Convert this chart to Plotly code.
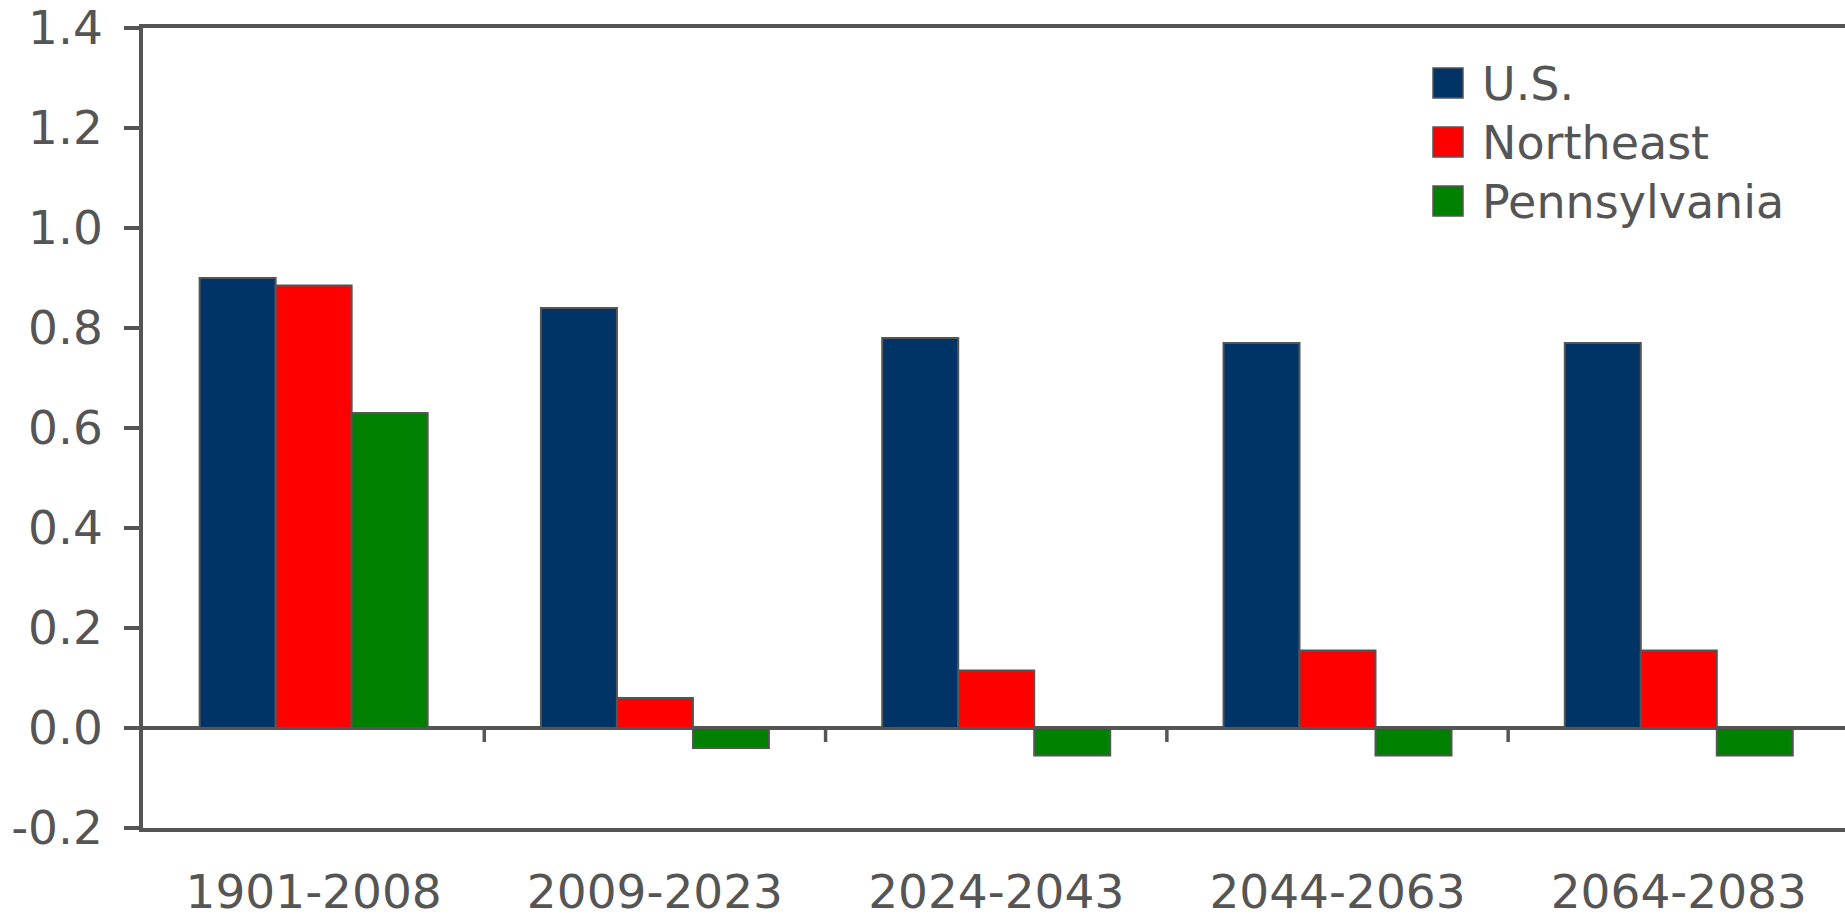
import plotly.graph_objects as go

# Periods and growth values per region
periods = ["1901-2008", "2009-2023", "2024-2043", "2044-2063", "2064-2083"]
us = [0.90, 0.84, 0.78, 0.77, 0.77]
northeast = [0.885, 0.06, 0.115, 0.155, 0.155]
pennsylvania = [0.63, -0.04, -0.055, -0.055, -0.055]

series_names = ["U.S.", "Northeast", "Pennsylvania"]
series_colors = ["#003366", "#FF0000", "#008000"]

y_tickvals = [-0.2, 0.0, 0.2, 0.4, 0.6, 0.8, 1.0, 1.2, 1.4]
y_ticktext = ["-0.2", "0.0", "0.2", "0.4", "0.6", "0.8", "1.0", "1.2", "1.4"]

# Page geometry (pixels)
W, H = 1845, 919
PLOT_L, PLOT_T, PLOT_B = 143, 28, 828
INK = "#555555"
FONT = "DejaVu Sans"

fig = go.Figure()
for name, vals, col in zip(series_names, [us, northeast, pennsylvania], series_colors):
    fig.add_trace(go.Bar(
        x=periods, y=vals, name=name,
        marker=dict(color=col, line=dict(color=INK, width=2)),
        showlegend=False,
    ))

def px_x(p):
    return (p - PLOT_L) / (W - PLOT_L)

def px_y(p):
    return (PLOT_B - p) / (PLOT_B - PLOT_T)

shapes = []
# small separators hanging below the zero line between periods
for i in range(len(periods) - 1):
    shapes.append(dict(type="line", xref="x", yref="y",
                       x0=i + 0.5, x1=i + 0.5, y0=0, y1=-0.028,
                       line=dict(color=INK, width=3.5)))

# legend drawn as swatches plus labels
annotations = []
sw_left, sw_size, txt_left = 1433, 30, 1480
row_centers = [83, 142, 201]
for name, col, cy in zip(series_names, series_colors, row_centers):
    shapes.append(dict(type="rect", xref="paper", yref="paper",
                       x0=px_x(sw_left), x1=px_x(sw_left + sw_size),
                       y0=px_y(cy + sw_size / 2), y1=px_y(cy - sw_size / 2),
                       fillcolor=col, line=dict(color=INK, width=1.5)))
    annotations.append(dict(xref="paper", yref="paper",
                            x=px_x(txt_left), y=px_y(cy + 1),
                            xanchor="left", yanchor="middle", showarrow=False,
                            text=name, font=dict(family=FONT, size=46, color=INK)))

fig.update_layout(
    width=W, height=H,
    margin=dict(l=PLOT_L, r=0, t=PLOT_T, b=H - PLOT_B, pad=0, autoexpand=False),
    plot_bgcolor="white", paper_bgcolor="white",
    barmode="group", bargap=0.332, bargroupgap=0,
    font=dict(family=FONT, color=INK, size=47),
    showlegend=False,
    shapes=shapes,
    annotations=annotations,
    xaxis=dict(
        type="category", range=[-0.5, 4.487], automargin=False,
        showline=True, linecolor=INK, linewidth=3.5, mirror=True,
        ticks="", showgrid=False,
        tickfont=dict(family=FONT, size=47, color=INK),
        ticklabelstandoff=20,
    ),
    yaxis=dict(
        range=[-0.2, 1.4], automargin=False,
        tickvals=y_tickvals, ticktext=y_ticktext,
        ticklabeloverflow="allow",
        showline=True, linecolor=INK, linewidth=3.5, mirror=False,
        ticks="outside", ticklen=15, tickwidth=3.5, tickcolor=INK,
        showgrid=False,
        zeroline=True, zerolinecolor=INK, zerolinewidth=3.5,
        tickfont=dict(family=FONT, size=47, color=INK),
        ticklabelstandoff=12,
    ),
)

fig.write_html("out.html")
